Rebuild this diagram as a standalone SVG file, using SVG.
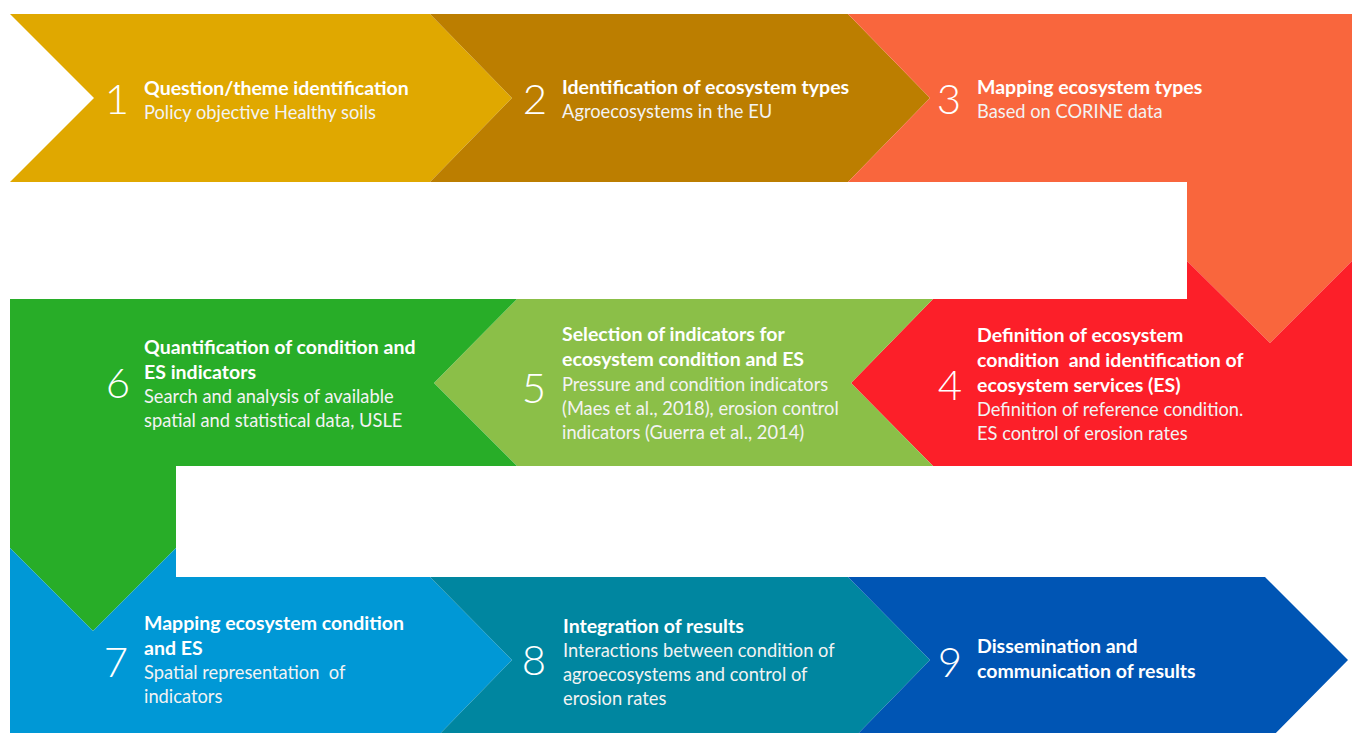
<svg xmlns="http://www.w3.org/2000/svg" width="1352" height="733" viewBox="0 0 1352 733">
  <style>
    .num { font-family: Lato, "Open Sans", sans-serif; font-weight: 300; font-size: 42px; fill: #ffffff; text-anchor: middle; }
    .ttl { font-family: Lato, "Open Sans", sans-serif; font-weight: 700; font-size: 19.5px; fill: #ffffff; }
    .sub { font-family: Lato, "Open Sans", sans-serif; font-weight: 400; font-size: 18.3px; fill: #f3f3f3; }
  </style>
  <rect width="1352" height="733" fill="#ffffff"/>

  <!-- Row 1: left to right -->
  <g id="step1">
    <polygon points="10,14 430,14 512,98 430,182 10,182 94,98" fill="#E0A800"/>
    <text class="num" x="117" y="114">1</text>
    <text class="ttl" x="144" y="95">Question/theme identification</text>
    <text class="sub" x="144" y="119">Policy objective Healthy soils</text>
  </g>
  <g id="step2">
    <polygon points="430,14 848,14 930,98 848,182 430,182 512,98" fill="#BC7E00"/>
    <text class="num" x="535" y="114">2</text>
    <text class="ttl" x="562" y="94">Identification of ecosystem types</text>
    <text class="sub" x="562" y="118">Agroecosystems in the EU</text>
  </g>
  <g id="step3">
    <polygon points="848,14 1352,14 1352,261 1270,343 1187,261 1187,182 848,182 930,98" fill="#F9663D"/>
    <text class="num" x="949" y="114">3</text>
    <text class="ttl" x="977" y="94">Mapping ecosystem types</text>
    <text class="sub" x="977" y="118">Based on CORINE data</text>
  </g>

  <!-- Row 2: right to left -->
  <g id="step4">
    <polygon points="933,299 1187,299 1187,261 1270,343 1352,261 1352,466 933,466 851,383" fill="#FC1F29"/>
    <text class="num" x="950" y="400">4</text>
    <text class="ttl" x="977" y="342">Definition of ecosystem</text>
    <text class="ttl" x="977" y="367" xml:space="preserve">condition  and identification of</text>
    <text class="ttl" x="977" y="392">ecosystem services (ES)</text>
    <text class="sub" x="977" y="416">Definition of reference condition.</text>
    <text class="sub" x="977" y="440">ES control of erosion rates</text>
  </g>
  <g id="step5">
    <polygon points="517,299 933,299 851,383 933,466 517,466 434,383" fill="#8BBF48"/>
    <text class="num" x="534" y="403">5</text>
    <text class="ttl" x="562" y="341">Selection of indicators for</text>
    <text class="ttl" x="562" y="366">ecosystem condition and ES</text>
    <text class="sub" x="562" y="391">Pressure and condition indicators</text>
    <text class="sub" x="562" y="415">(Maes et al., 2018), erosion control</text>
    <text class="sub" x="562" y="439">indicators (Guerra et al., 2014)</text>
  </g>
  <g id="step6">
    <polygon points="10,299 517,299 434,383 517,466 176,466 176,548 93,631 10,548" fill="#28AD28"/>
    <text class="num" x="118" y="398">6</text>
    <text class="ttl" x="144" y="354">Quantification of condition and</text>
    <text class="ttl" x="144" y="379">ES indicators</text>
    <text class="sub" x="144" y="403">Search and analysis of available</text>
    <text class="sub" x="144" y="427">spatial and statistical data, USLE</text>
  </g>

  <!-- Row 3: left to right -->
  <g id="step7">
    <polygon points="10,548 93,631 176,548 176,577 430,577 512,660 430,744 10,744" fill="#0098D6"/>
    <text class="num" x="116" y="677">7</text>
    <text class="ttl" x="144" y="630">Mapping ecosystem condition</text>
    <text class="ttl" x="144" y="655">and ES</text>
    <text class="sub" x="144" y="679" xml:space="preserve">Spatial representation  of</text>
    <text class="sub" x="144" y="703">indicators</text>
  </g>
  <g id="step8">
    <polygon points="430,577 848,577 930,660 848,744 430,744 512,660" fill="#0086A0"/>
    <text class="num" x="534" y="675">8</text>
    <text class="ttl" x="563" y="633">Integration of results</text>
    <text class="sub" x="563" y="657">Interactions between condition of</text>
    <text class="sub" x="563" y="681">agroecosystems and control of</text>
    <text class="sub" x="563" y="705">erosion rates</text>
  </g>
  <g id="step9">
    <polygon points="848,577 1265,577 1348,660 1265,744 848,744 930,660" fill="#0055B4"/>
    <text class="num" x="950" y="677">9</text>
    <text class="ttl" x="977" y="653">Dissemination and</text>
    <text class="ttl" x="977" y="678">communication of results</text>
  </g>

  <!-- the flow is carried by the chevron shapes themselves -->
  <g id="connectors"></g>
</svg>
